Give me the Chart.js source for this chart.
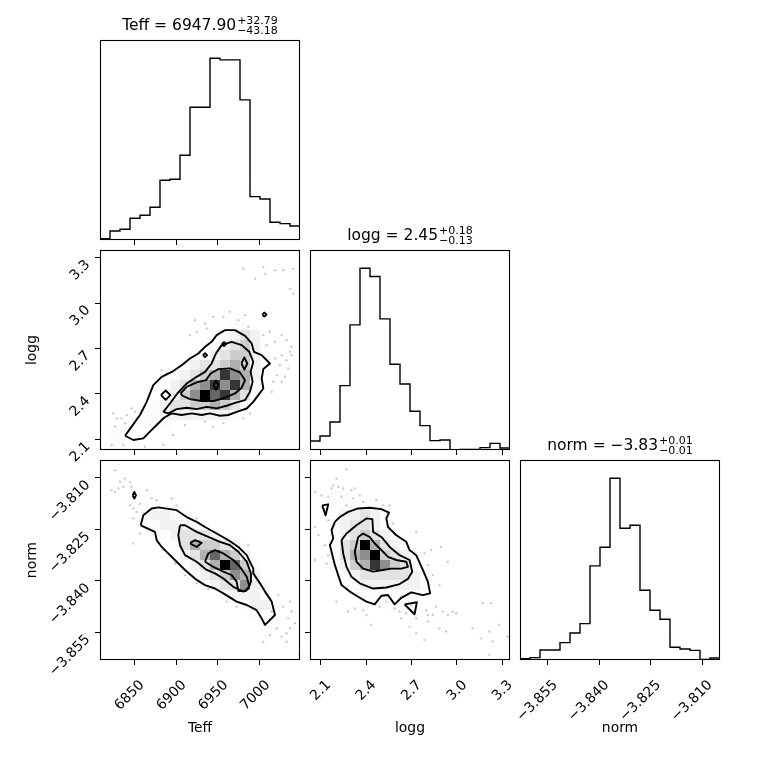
<!DOCTYPE html>
<html>
<head>
<meta charset="utf-8">
<script src="https://cdn.jsdelivr.net/npm/chart.js@4.4.1/dist/chart.umd.min.js"></script>
<style>
  body { margin: 0; background: #fff; }
  #fig { position: relative; width: 760px; height: 760px; font-family: 'DejaVu Sans', sans-serif; }
  #fig canvas { position: absolute; left: 0; top: 0; }
  .ttl { position: absolute; height: 26.2px; display: flex; justify-content: center; align-items: flex-end; white-space: nowrap; color: #000; z-index: 5; }
  .ttl .main { font-size: 15.5px; line-height: 15.5px; margin-bottom: 2.3px; }
  .ttl .scr { display: flex; flex-direction: column; font-size: 11px; line-height: 10px; margin-left: 1px; }
</style>
</head>
<body>
<div id="fig"></div>
<script>
// rangos de cada parámetro (eje y bins)
const teffRange = [6809, 7048];
const loggRange = [2.030, 3.350];
const normRange = [-3.8630, -3.8048];

const teffTicks = [6850, 6900, 6950, 7000];
const loggTicks = [2.1, 2.4, 2.7, 3.0, 3.3];
const normTicks = [-3.855, -3.840, -3.825, -3.810];

// histogramas 1D (20 bins)
const teffHist = [4, 27, 32, 65, 74, 98, 179, 182, 254, 398, 398, 545, 540, 540, 420, 130, 123, 53, 49, 42];
const loggHist = [27, 42, 84, 193, 375, 545, 520, 393, 257, 198, 116, 73, 28, 30, 0, 2, 2, 7, 20, 6];
const normHist = [4, 7, 30, 30, 52, 81, 109, 282, 338, 545, 395, 404, 209, 149, 122, 38, 33, 29, 2, 6];

const titles = [
  ['Teff = 6947.90', '+32.79', '\u221243.18'],
  ['logg = 2.45', '+0.18', '\u22120.13'],
  ['norm = \u22123.83', '+0.01', '\u22120.01']
];

// densidad 2D (filas de arriba a abajo, 20x20)
const densTeffLogg = [
  '00000000000000000000', '00000000000000000000', '00000000000000000000', '00000000000000000000',
  '00000000000000000000', '00000000000000000000', '00000000000000000000', '00000000000001100000',
  '00000000000012320000', '00000000000123420000', '00000000001234420000', '00000000123345420000',
  '00000001234586520000', '00000012356868510000', '00000012469785300000', '00000123344543100000',
  '00001122222221000000', '00111110000000000000', '01100000000000000000', '00000000000000000000'
];
const densTeffNorm = [
  '00000000000000000000', '00000000000000000000', '00000000000000000000', '00000000000000000000',
  '00001100000000000000', '00001221100000000000', '00000122211000000000', '00000012333210000000',
  '00000001354432000000', '00000000235754200000', '00000000023597410000', '00000000002346520000',
  '00000000000233621000', '00000000000012221000', '00000000000000122100', '00000000000000011100',
  '00000000000000001100', '00000000000000000000', '00000000000000000000', '00000000000000000000'
];
const densLoggNorm = [
  '00000000000000000000', '00000000000000000000', '00000000000000000000', '00110000000000000000',
  '00111110000000000000', '00122321000000000000', '00123321000000000000', '00123432100000000000',
  '00134953210000000000', '00135694321000000000', '00024586431000000000', '00012333332100000000',
  '00011222222100000000', '00000111111000000000', '00000000110000000000', '00000000000000000000',
  '00000000000000000000', '00000000000000000000', '00000000000000000000', '00000000000000000000'
];

// contornos Teff-logg
const outerTL = [[6838.9,2.124],[6846.8,2.184],[6856.8,2.261],[6864.8,2.348],[6872.7,2.458],[6882.7,2.513],[6896.6,2.551],[6906.6,2.590],[6916.5,2.634],[6926.5,2.667],[6934.5,2.711],[6942.4,2.744],[6948.4,2.788],[6958.4,2.821],[6970.3,2.821],[6982.3,2.783],[6990.2,2.733],[6993.0,2.678],[7002.2,2.656],[7012.1,2.601],[7004.2,2.564],[7002.2,2.502],[7004.2,2.436],[6998.2,2.392],[6992.2,2.348],[6984.3,2.304],[6972.3,2.282],[6962.3,2.261],[6952.4,2.256],[6940.4,2.272],[6930.5,2.261],[6918.5,2.272],[6906.6,2.261],[6894.6,2.272],[6885.5,2.243],[6876.7,2.195],[6868.7,2.151],[6860.8,2.107],[6848.8,2.096]];
const midTL = [[6884.7,2.282],[6892.6,2.337],[6901.4,2.403],[6912.6,2.469],[6924.5,2.513],[6934.5,2.546],[6942.4,2.601],[6947.6,2.667],[6954.4,2.722],[6966.3,2.744],[6978.3,2.722],[6987.4,2.678],[6992.2,2.612],[6989.0,2.546],[6991.4,2.480],[6988.2,2.414],[6982.3,2.359],[6972.3,2.344],[6960.3,2.322],[6948.4,2.305],[6936.5,2.315],[6924.5,2.300],[6912.6,2.309],[6900.6,2.300],[6890.6,2.272]];
const innerTL = [[6905.4,2.403],[6912.6,2.447],[6924.5,2.476],[6935.7,2.491],[6941.2,2.535],[6950.4,2.564],[6964.3,2.568],[6976.3,2.542],[6982.3,2.491],[6978.3,2.441],[6970.3,2.403],[6958.4,2.375],[6944.4,2.353],[6930.5,2.353],[6916.5,2.366],[6907.8,2.388]];
const islandsTL = [
  [[6881.9,2.392],[6887.5,2.423],[6893.1,2.392],[6887.5,2.361]],
  [[6932.0,2.656],[6934.5,2.669],[6937.0,2.656],[6934.5,2.643]],
  [[6954.7,2.729],[6957.2,2.742],[6959.7,2.729],[6957.2,2.716]],
  [[6978.0,2.601],[6981.5,2.641],[6985.0,2.601],[6981.5,2.561]],
  [[7002.9,2.924],[7005.4,2.937],[7007.9,2.924],[7005.4,2.911]],
  [[6944.6,2.458],[6947.6,2.488],[6950.6,2.458],[6947.6,2.428]]
];
const pointsTL = [[6980.3,3.227],[7004.2,3.238],[7018.1,3.216],[7028.1,3.216],[7040.0,3.227],[6994.2,3.161],[7006.2,3.194],[7036.0,3.095],[7040.0,3.062],[6922.5,2.887],[6934.5,2.865],[6944.4,2.909],[6956.4,2.909],[6964.3,2.942],[6974.3,2.887],[6982.3,2.920],[6986.2,2.843],[7004.2,2.788],[7012.1,2.810],[7018.1,2.744],[7026.1,2.788],[7032.0,2.755],[7038.0,2.711],[7038.0,2.656],[7026.1,2.656],[7024.1,2.590],[7034.0,2.568],[7020.1,2.524],[7026.1,2.480],[7016.1,2.480],[7014.1,2.414],[7036.0,2.678],[7008.2,2.722],[6916.5,2.788],[6924.5,2.810],[6936.5,2.832],[6824.9,2.272],[6828.9,2.239],[6826.9,2.184],[6834.9,2.239],[6838.9,2.206],[6840.9,2.261],[6846.8,2.305],[6850.8,2.283],[6852.8,2.239],[6882.7,2.557],[6888.7,2.535],[6822.9,2.063],[6836.9,2.063],[6862.8,2.052],[6884.7,2.063],[6896.6,2.129],[6910.6,2.195],[6944.4,2.184],[6956.4,2.206],[6934.5,2.217],[6980.3,2.239],[6988.2,2.272],[7030.1,2.513],[7032.0,2.623],[7018.1,2.634]];

// contornos Teff-norm
const outerTN = [[6857.6,-3.8238],[6860.8,-3.8209],[6870.7,-3.8189],[6878.7,-3.8186],[6900.6,-3.8194],[6912.6,-3.8214],[6924.5,-3.8228],[6934.5,-3.8243],[6948.4,-3.8262],[6962.3,-3.8281],[6974.3,-3.8301],[6984.3,-3.8325],[6992.2,-3.8364],[6992.2,-3.8378],[7000.2,-3.8407],[7006.2,-3.8431],[7014.1,-3.8460],[7018.1,-3.8499],[7006.2,-3.8528],[7002.2,-3.8509],[6996.2,-3.8485],[6984.3,-3.8470],[6972.3,-3.8460],[6956.4,-3.8436],[6946.4,-3.8422],[6934.5,-3.8412],[6924.5,-3.8397],[6910.6,-3.8368],[6900.6,-3.8344],[6892.6,-3.8325],[6882.7,-3.8301],[6876.7,-3.8281],[6874.7,-3.8257],[6864.8,-3.8246]];
const midTN = [[6904.6,-3.8238],[6910.6,-3.8238],[6924.5,-3.8257],[6938.4,-3.8272],[6952.4,-3.8286],[6964.3,-3.8296],[6974.3,-3.8315],[6984.3,-3.8344],[6989.4,-3.8378],[6989.4,-3.8402],[6986.2,-3.8422],[6980.3,-3.8431],[6968.3,-3.8417],[6956.4,-3.8393],[6946.4,-3.8378],[6936.5,-3.8368],[6924.5,-3.8344],[6910.6,-3.8325],[6904.6,-3.8296],[6902.6,-3.8267]];
const innerTN = [[6934.5,-3.8344],[6938.4,-3.8320],[6946.4,-3.8310],[6956.4,-3.8320],[6968.3,-3.8339],[6976.3,-3.8359],[6984.3,-3.8388],[6987.4,-3.8415],[6983.5,-3.8429],[6974.3,-3.8429],[6972.3,-3.8402],[6966.3,-3.8383],[6956.4,-3.8373],[6944.4,-3.8359]];
const islandsTN = [
  [[6916.5,-3.8291],[6922.5,-3.8281],[6930.5,-3.8289],[6924.5,-3.8301]],
  [[6848.0,-3.8151],[6850.0,-3.8141],[6852.0,-3.8151],[6850.0,-3.8160]]
];
const pointsTN = [[6826.9,-3.8078],[6822.9,-3.8136],[6826.9,-3.8141],[6832.9,-3.8112],[6838.9,-3.8102],[6844.8,-3.8112],[6846.8,-3.8126],[6836.9,-3.8126],[6830.9,-3.8131],[6844.8,-3.8180],[6848.8,-3.8189],[6852.8,-3.8199],[6848.8,-3.8218],[6856.8,-3.8175],[6864.8,-3.8136],[6870.7,-3.8160],[6876.7,-3.8165],[6894.6,-3.8160],[6900.6,-3.8180],[6848.8,-3.8291],[6856.8,-3.8262],[6924.5,-3.8218],[6884.7,-3.8310],[6894.6,-3.8330],[6898.6,-3.8349],[6910.6,-3.8383],[6924.5,-3.8407],[6938.4,-3.8424],[6960.3,-3.8460],[6972.3,-3.8475],[6986.2,-3.8296],[7022.1,-3.8441],[7028.1,-3.8475],[7036.0,-3.8460],[7038.0,-3.8489],[7034.0,-3.8509],[7036.0,-3.8538],[7032.0,-3.8552],[7020.1,-3.8538],[7026.1,-3.8562],[7032.0,-3.8577],[7012.1,-3.8557],[7004.2,-3.8577],[7047.2,-3.8615],[7014.1,-3.8489],[7042.0,-3.8523]];

// contornos logg-norm
const outerLN = [[2.1943,-3.8228],[2.2272,-3.8214],[2.2819,-3.8199],[2.3477,-3.8189],[2.4243,-3.8187],[2.5010,-3.8191],[2.5514,-3.8201],[2.5339,-3.8218],[2.5448,-3.8243],[2.5996,-3.8267],[2.6653,-3.8286],[2.6872,-3.8310],[2.7310,-3.8325],[2.7748,-3.8368],[2.8077,-3.8402],[2.8230,-3.8436],[2.7748,-3.8441],[2.6982,-3.8433],[2.6324,-3.8449],[2.5886,-3.8468],[2.5448,-3.8441],[2.5010,-3.8443],[2.4572,-3.8468],[2.4024,-3.8460],[2.3477,-3.8446],[2.2929,-3.8431],[2.2381,-3.8412],[2.2162,-3.8383],[2.1943,-3.8354],[2.1614,-3.8296],[2.1834,-3.8276],[2.1724,-3.8252]];
const midLN = [[2.2381,-3.8281],[2.2710,-3.8262],[2.3367,-3.8238],[2.4024,-3.8218],[2.4418,-3.8220],[2.4462,-3.8257],[2.5010,-3.8272],[2.5558,-3.8301],[2.6215,-3.8325],[2.6872,-3.8339],[2.7048,-3.8373],[2.6763,-3.8394],[2.6215,-3.8409],[2.5339,-3.8419],[2.4462,-3.8422],[2.3586,-3.8407],[2.3038,-3.8388],[2.2710,-3.8359],[2.2491,-3.8320]];
const innerLN = [[2.3477,-3.8272],[2.3805,-3.8262],[2.4243,-3.8272],[2.4572,-3.8291],[2.5010,-3.8310],[2.5448,-3.8330],[2.5996,-3.8339],[2.6653,-3.8344],[2.6763,-3.8359],[2.6324,-3.8364],[2.5667,-3.8364],[2.5120,-3.8368],[2.4462,-3.8373],[2.3805,-3.8364],[2.3367,-3.8344],[2.3258,-3.8315]];
const islandsLN = [
  [[2.1111,-3.8180],[2.1505,-3.8177],[2.1330,-3.8209]],
  [[2.6543,-3.8468],[2.7354,-3.8462],[2.7200,-3.8497]]
];
const pointsLN = [[2.2710,-3.8075],[2.2053,-3.8102],[2.1834,-3.8122],[2.1724,-3.8131],[2.2162,-3.8126],[2.2491,-3.8131],[2.2381,-3.8155],[2.1505,-3.8155],[2.0629,-3.8141],[2.1067,-3.8151],[2.3038,-3.8136],[2.3258,-3.8131],[2.3148,-3.8160],[2.3586,-3.8151],[2.3805,-3.8170],[2.2710,-3.8180],[2.1505,-3.8223],[2.0629,-3.8243],[2.0848,-3.8267],[2.1286,-3.8296],[2.0629,-3.8339],[2.1505,-3.8325],[2.1395,-3.8349],[2.2053,-3.8460],[2.2819,-3.8489],[2.3258,-3.8480],[2.3805,-3.8485],[2.4024,-3.8499],[2.4353,-3.8528],[2.4900,-3.8475],[2.5339,-3.8460],[2.5886,-3.8480],[2.6215,-3.8489],[2.6324,-3.8509],[2.6653,-3.8494],[2.6982,-3.8470],[2.7968,-3.8485],[2.8077,-3.8499],[2.7310,-3.8509],[2.6872,-3.8533],[2.7310,-3.8552],[2.8077,-3.8518],[2.8405,-3.8499],[2.7858,-3.8572],[2.8844,-3.8538],[2.9282,-3.8547],[2.9063,-3.8489],[2.9391,-3.8499],[2.8625,-3.8475],[2.8844,-3.8412],[2.8405,-3.8383],[2.8077,-3.8354],[2.7858,-3.8320],[2.7310,-3.8257],[2.8296,-3.8310],[2.8953,-3.8301],[2.9391,-3.8344],[2.9720,-3.8489],[3.1034,-3.8538],[3.1582,-3.8567],[3.1692,-3.8465],[3.2240,-3.8465],[3.2130,-3.8547],[3.2349,-3.8576],[3.2787,-3.8528],[3.3335,-3.8562],[3.2130,-3.8615],[2.9939,-3.8494],[2.5777,-3.8233],[2.4681,-3.8165],[2.5120,-3.8180],[2.5558,-3.8180]];

Chart.defaults.font.family = "'DejaVu Sans', sans-serif";
Chart.defaults.color = '#000';

const fig = document.getElementById('fig');
const lefts = [100, 310, 520];
const tops = [40, 250, 460];
const tickFont = { size: 13.9 };
const labelFont = { size: 13.9 };
const XH = 81;   // alto del eje x con etiquetas
const YW = 80;   // ancho del eje y con etiquetas

const teff = { range: teffRange, ticks: teffTicks, dec: 0, label: 'Teff' };
const logg = { range: loggRange, ticks: loggTicks, dec: 1, label: 'logg' };
const norm = { range: normRange, ticks: normTicks, dec: 3, label: 'norm' };

const fmt = (v, dec) => Number(v).toFixed(dec).replace('-', '\u2212');

function gridOpts() {
  return { display: true, drawOnChartArea: false, drawTicks: true, tickLength: 5, tickWidth: 1, tickColor: '#000' };
}

function ejeX(p, labels, h) {
  return {
    type: 'linear', min: p.range[0], max: p.range[1],
    afterBuildTicks: s => { s.ticks = p.ticks.map(v => ({ value: v })); },
    afterFit: s => { s.height = h; s.paddingLeft = 0; s.paddingRight = 0; },
    grid: gridOpts(), border: { display: false },
    ticks: { display: labels, minRotation: 45, maxRotation: 45, padding: 12, labelOffset: 8, font: tickFont, callback: v => fmt(v, p.dec) },
    title: { display: labels, text: p.label, font: labelFont, padding: { top: 4, bottom: 4 } }
  };
}

function ejeY(p, labels, w) {
  return {
    type: 'linear', min: p.range[0], max: p.range[1],
    afterBuildTicks: s => { s.ticks = p.ticks.map(v => ({ value: v })); },
    afterFit: s => { s.width = w; s.paddingTop = 0; s.paddingBottom = 0; },
    grid: gridOpts(), border: { display: false },
    ticks: { display: labels, minRotation: 45, maxRotation: 45, padding: 7, labelOffset: 5, font: tickFont, callback: v => fmt(v, p.dec) },
    title: { display: labels, text: p.label, font: labelFont, padding: { top: 4, bottom: 4 } }
  };
}

// marco negro alrededor de cada panel
const marco = {
  id: 'marco',
  afterDraw(chart) {
    const { ctx, chartArea: a } = chart;
    ctx.save();
    ctx.strokeStyle = '#000';
    ctx.lineWidth = 1.1;
    ctx.strokeRect(Math.round(a.left) + 0.5, Math.round(a.top) + 0.5, Math.round(a.right - a.left) - 1, Math.round(a.bottom - a.top) - 1);
    ctx.restore();
  }
};

// celdas de densidad usando las escalas del chart
function celdas(dens, xr, yr) {
  return {
    id: 'celdas',
    beforeDatasetsDraw(chart) {
      const { ctx, scales: { x, y } } = chart;
      const ny = dens.length;
      ctx.save();
      dens.forEach((fila, r) => {
        const nx = fila.length;
        [...fila].forEach((ch, c) => {
          const d = +ch;
          if (!d) return;
          const h = d / 9;
          const g = Math.round(255 * (1 - h * h));
          const x0 = x.getPixelForValue(xr[0] + (xr[1] - xr[0]) * c / nx);
          const x1 = x.getPixelForValue(xr[0] + (xr[1] - xr[0]) * (c + 1) / nx);
          const y0 = y.getPixelForValue(yr[1] - (yr[1] - yr[0]) * r / ny);
          const y1 = y.getPixelForValue(yr[1] - (yr[1] - yr[0]) * (r + 1) / ny);
          ctx.fillStyle = `rgb(${g},${g},${g})`;
          ctx.fillRect(x0, y0, x1 - x0 + 0.4, y1 - y0 + 0.4);
        });
      });
      ctx.restore();
    }
  };
}

function pasos(counts, range) {
  const n = counts.length, w = (range[1] - range[0]) / n;
  const pts = [{ x: range[0], y: 0 }];
  counts.forEach((c, i) => pts.push({ x: range[0] + i * w, y: c }));
  pts.push({ x: range[1], y: counts[n - 1] });
  pts.push({ x: range[1], y: 0 });
  return pts;
}

const linea = (pts, lw) => ({
  data: pts.concat([pts[0]]).map(([x, y]) => ({ x, y })),
  showLine: true, pointRadius: 0, borderColor: '#000', borderWidth: lw,
  borderJoinStyle: 'round', tension: 0, fill: false
});

const puntos = pts => ({
  data: pts.map(([x, y]) => ({ x, y })),
  pointRadius: 1.2, pointBorderWidth: 0, pointBackgroundColor: 'rgba(0,0,0,0.2)', showLine: false
});

function crearPanel(col, row, cfg) {
  const c = document.createElement('canvas');
  c.width = 760; c.height = 760;
  fig.appendChild(c);
  const px = lefts[col], py = tops[row];
  return new Chart(c, {
    type: 'scatter',
    data: { datasets: cfg.datasets },
    options: {
      responsive: false, animation: false, events: [],
      layout: { padding: { left: px - cfg.yw, top: py, right: 760 - px - 200, bottom: 760 - py - 200 - cfg.xh } },
      plugins: { legend: { display: false }, tooltip: { enabled: false } },
      scales: { x: cfg.x, y: cfg.y }
    },
    plugins: (cfg.plugins || []).concat([marco])
  });
}

function histograma(col, row, p, counts, bottom) {
  crearPanel(col, row, {
    yw: 0, xh: bottom ? XH : 5,
    x: ejeX(p, bottom, bottom ? XH : 5),
    y: { display: false, min: 0, max: Math.max(...counts) * 1.1 },
    datasets: [{ data: pasos(counts, p.range), showLine: true, stepped: true, pointRadius: 0, borderColor: '#000', borderWidth: 1.4, fill: false }]
  });
}

function panel2d(col, row, px_, py_, dens, pts, contornos, islas, labelsX, labelsY) {
  const dsets = [puntos(pts)];
  contornos.forEach(cn => dsets.push(linea(cn, 1.9)));
  islas.forEach(cn => dsets.push(linea(cn, 1.9)));
  crearPanel(col, row, {
    yw: labelsY ? YW : 5, xh: labelsX ? XH : 5,
    x: ejeX(px_, labelsX, labelsX ? XH : 5),
    y: ejeY(py_, labelsY, labelsY ? YW : 5),
    datasets: dsets,
    plugins: [celdas(dens, px_.range, py_.range)]
  });
}

histograma(0, 0, teff, teffHist, false);
panel2d(0, 1, teff, logg, densTeffLogg, pointsTL, [outerTL, midTL, innerTL], islandsTL, false, true);
histograma(1, 1, logg, loggHist, false);
panel2d(0, 2, teff, norm, densTeffNorm, pointsTN, [outerTN, midTN, innerTN], islandsTN, true, true);
panel2d(1, 2, logg, norm, densLoggNorm, pointsLN, [outerLN, midLN, innerLN], islandsLN, true, false);
histograma(2, 2, norm, normHist, true);

// títulos con super/subíndices
titles.forEach(([main, sup, sub], i) => {
  const d = document.createElement('div');
  d.className = 'ttl';
  d.style.left = (lefts[i] - 50) + 'px';
  d.style.width = '300px';
  d.style.top = (tops[i] - 30) + 'px';
  d.innerHTML = `<span class="main">${main}</span><span class="scr"><span>${sup}</span><span>${sub}</span></span>`;
  fig.appendChild(d);
});
</script>
</body>
</html>
